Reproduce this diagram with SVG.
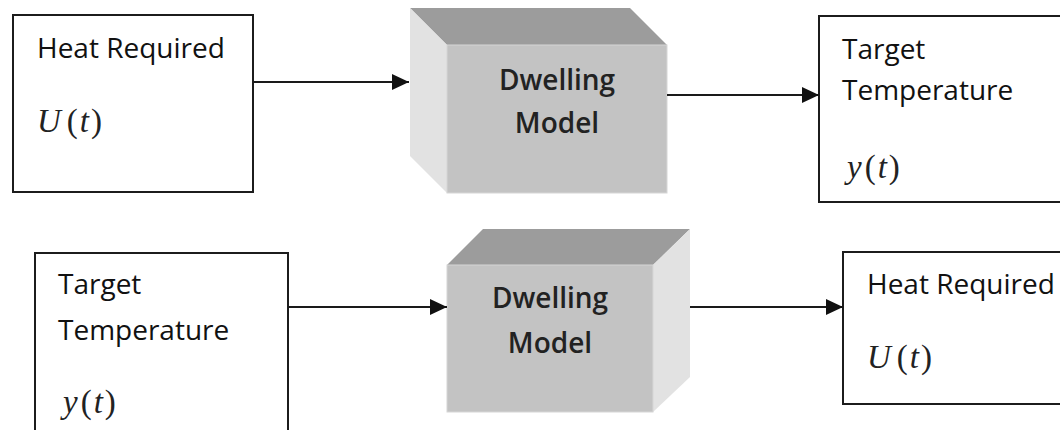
<svg xmlns="http://www.w3.org/2000/svg" width="1060" height="430" viewBox="0 0 1060 430">
  <style>
    .box { fill: #ffffff; stroke: #1c1c1c; stroke-width: 2; }
    .label { font-family: "Open Sans", "Liberation Sans", sans-serif; font-size: 28px; fill: #111111; }
    .model { font-family: "Open Sans", "Liberation Sans", sans-serif; font-size: 28px; font-weight: 600; fill: #222222; text-anchor: middle; }
    .math { font-family: "Liberation Serif", "DejaVu Serif", serif; font-size: 33px; fill: #222222; }
    .it { font-style: italic; }
    .top { fill: #9c9c9c; }
    .front { fill: #c3c3c3; stroke: #d6d6d6; stroke-width: 1; }
    .side { fill: #e2e2e2; }
    .wire { stroke: #1a1a1a; stroke-width: 2; fill: none; marker-end: url(#head); }
  </style>
  <defs>
    <marker id="head" markerUnits="userSpaceOnUse" markerWidth="18" markerHeight="18" refX="17" refY="8" orient="auto">
      <path d="M0,0 L17,8 L0,16 z" fill="#111111"/>
    </marker>
  </defs>

  <rect width="1060" height="430" fill="#ffffff"/>

  <!-- forward model: heat input -> dwelling -> temperature -->
  <g id="heat-in">
    <rect class="box" x="13" y="15" width="240" height="177"/>
    <text class="label" x="37" y="58">Heat Required</text>
    <text class="math" x="37" y="132"><tspan class="it">U</tspan><tspan dx="6">(</tspan><tspan class="it" dx="2">t</tspan><tspan dx="2">)</tspan></text>
  </g>

  <g id="dwelling-forward">
    <polygon class="top" points="410,8 630,8 667,45 447,45"/>
    <polygon class="side" points="410,8 447,45 447,193 410,156"/>
    <rect class="front" x="447" y="45" width="220" height="148"/>
    <text class="model" x="557" y="90">Dwelling</text>
    <text class="model" x="557" y="133">Model</text>
  </g>

  <g id="temp-out">
    <rect class="box" x="819" y="16" width="260" height="186"/>
    <text class="label" x="842" y="59">Target</text>
    <text class="label" x="842" y="100">Temperature</text>
    <text class="math" x="847" y="178"><tspan class="it">y</tspan><tspan dx="3">(</tspan><tspan class="it" dx="2">t</tspan><tspan dx="2">)</tspan></text>
  </g>

  <!-- inverse model: temperature -> dwelling -> heat required -->
  <g id="temp-in">
    <rect class="box" x="35" y="253" width="253" height="190"/>
    <text class="label" x="58" y="294">Target</text>
    <text class="label" x="58" y="340">Temperature</text>
    <text class="math" x="63" y="413"><tspan class="it">y</tspan><tspan dx="3">(</tspan><tspan class="it" dx="2">t</tspan><tspan dx="2">)</tspan></text>
  </g>

  <g id="dwelling-inverse">
    <polygon class="top" points="483,229 690,229 653,265 447,265"/>
    <polygon class="side" points="653,265 690,229 690,377 653,412"/>
    <rect class="front" x="447" y="265" width="206" height="147"/>
    <text class="model" x="550" y="308">Dwelling</text>
    <text class="model" x="550" y="353">Model</text>
  </g>

  <g id="heat-out">
    <rect class="box" x="843" y="252" width="240" height="152"/>
    <text class="label" x="867" y="294">Heat Required</text>
    <text class="math" x="867" y="368"><tspan class="it">U</tspan><tspan dx="6">(</tspan><tspan class="it" dx="2">t</tspan><tspan dx="2">)</tspan></text>
  </g>

  <g id="connectors">
    <line class="wire" x1="253" y1="82" x2="409" y2="82"/>
    <line class="wire" x1="667" y1="95" x2="819" y2="95"/>
    <line class="wire" x1="288" y1="307" x2="447" y2="307"/>
    <line class="wire" x1="690" y1="307" x2="843" y2="307"/>
  </g>
</svg>
